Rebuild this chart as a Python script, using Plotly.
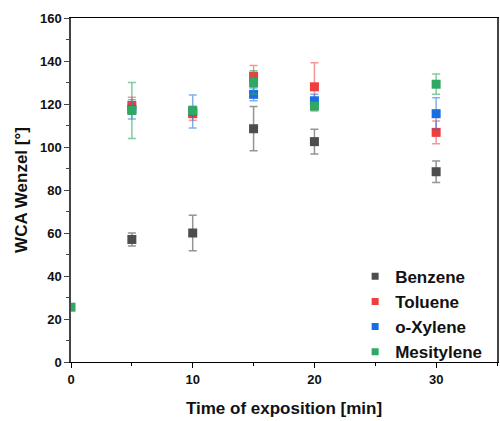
import plotly.graph_objects as go

names = ["Benzene", "Toluene", "o-Xylene", "Mesitylene"]
colors = ["#4d4d4d", "#ee3e3e", "#1a6ee0", "#2ea863"]
err_colors = ["rgba(77,77,77,0.6)", "rgba(238,62,62,0.55)", "rgba(26,110,224,0.55)", "rgba(46,168,99,0.6)"]

benzene_x = [5, 10, 15, 20, 30]
benzene_y = [57, 60, 108.5, 102.5, 88.5]
benzene_err = [3, 8.3, 10.3, 5.7, 5]

toluene_x = [5, 10, 15, 20, 30]
toluene_y = [119.3, 115.5, 132.9, 128, 106.8]
toluene_err = [3.8, 3, 5, 11.2, 5.3]

xylene_x = [5, 10, 15, 20, 30]
xylene_y = [117.5, 116.5, 124.5, 121.5, 115.5]
xylene_err = [4.5, 7.7, 3, 3, 7.4]

mesitylene_x = [0, 5, 10, 15, 20, 30]
mesitylene_y = [25.5, 117, 117, 130, 119, 129.2]
mesitylene_err = [0, 13, 2, 5.5, 1.5, 4.7]

series = [
    (benzene_x, benzene_y, benzene_err),
    (toluene_x, toluene_y, toluene_err),
    (xylene_x, xylene_y, xylene_err),
    (mesitylene_x, mesitylene_y, mesitylene_err),
]

fig = go.Figure()
for name, col, ecol, (xs, ys, es) in zip(names, colors, err_colors, series):
    fig.add_trace(go.Scatter(
        x=xs, y=ys, mode="markers", name=name, showlegend=False, legendgroup=name,
        marker=dict(symbol="square", size=9, color=col, line=dict(width=0)),
        error_y=dict(type="data", array=es, visible=True, color=ecol, thickness=1.5, width=4),
    ))
# legend entries with smaller symbols, as in the reference
for name, col in zip(names, colors):
    fig.add_trace(go.Scatter(
        x=[None], y=[None], mode="markers", name=name, legendgroup=name,
        marker=dict(symbol="square", size=7, color=col, line=dict(width=0)),
    ))

axis_font = dict(family="Arial", size=13, color="#111", weight="bold")
title_font = dict(family="Arial", size=17, color="#111", weight="bold")

fig.update_layout(
    width=500, height=421,
    margin=dict(l=71, r=1, t=18, b=59),
    paper_bgcolor="white", plot_bgcolor="white",
    showlegend=True,
    legend=dict(x=0.667, y=0.3, xanchor="left", yanchor="top",
                font=dict(family="Arial", size=17, color="#111", weight="bold"),
                bgcolor="rgba(0,0,0,0)", tracegroupgap=0),
    xaxis=dict(range=[0, 35], dtick=10, tick0=0, showgrid=False, zeroline=False,
               showline=True, linecolor="black", linewidth=1, mirror=True,
               ticks="outside", ticklen=5, tickcolor="black",
               minor=dict(dtick=5, ticks="outside", ticklen=3, tickcolor="black", showgrid=False),
               tickfont=axis_font,
               title=dict(text="Time of exposition [min]", font=title_font, standoff=16)),
    yaxis=dict(range=[0, 160], dtick=20, tick0=0, showgrid=False, zeroline=False,
               showline=True, linecolor="#444", linewidth=1.5, mirror=True,
               ticks="outside", ticklen=5, tickcolor="#444",
               minor=dict(dtick=10, ticks="outside", ticklen=3, tickcolor="#444", showgrid=False),
               tickfont=axis_font,
               title=dict(text="WCA Wenzel [°]", font=title_font, standoff=8)),
)

fig.write_html("out.html")
